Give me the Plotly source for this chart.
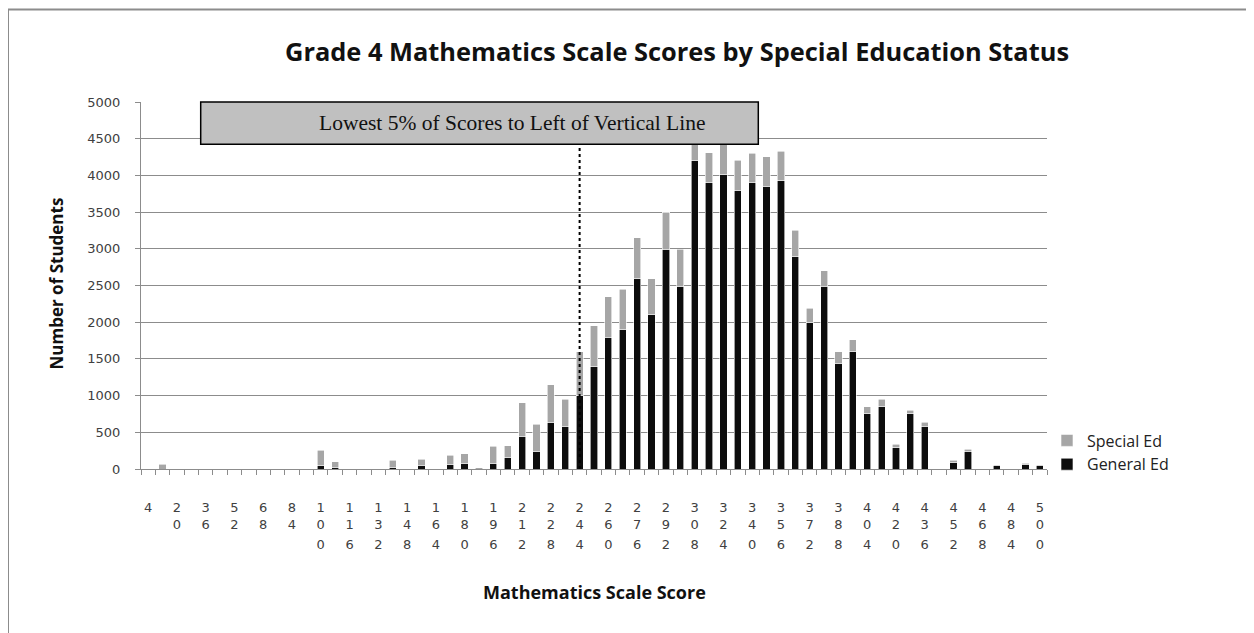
import plotly.graph_objects as go

# ---- data ----
scores = [4, 12, 20, 28, 36, 44, 52, 60, 68, 76, 84, 92, 100, 108, 116, 124, 132,
          140, 148, 156, 164, 172, 180, 188, 196, 204, 212, 220, 228, 236, 244,
          252, 260, 268, 276, 284, 292, 300, 308, 316, 324, 332, 340, 348, 356,
          364, 372, 380, 388, 396, 404, 412, 420, 428, 436, 444, 452, 460, 468,
          476, 484, 492, 500]

general_ed = [0, 0, 0, 0, 0, 0, 0, 0, 0, 0, 0, 0, 45, 25, 0, 0, 0, 25, 0, 50, 0,
              65, 80, 0, 80, 150, 445, 240, 640, 585, 1000, 1395, 1795, 1900,
              2595, 2100, 2995, 2490, 4200, 3905, 4010, 3800, 3905, 3855, 3925,
              2895, 1995, 2490, 1440, 1600, 750, 850, 290, 750, 585, 0, 85, 240,
              0, 45, 0, 65, 50]

special_ed = [0, 65, 0, 0, 0, 0, 0, 0, 0, 0, 0, 0, 210, 75, 0, 0, 0, 95, 0, 85, 0,
              125, 125, 20, 230, 170, 455, 370, 505, 365, 600, 555, 555, 550,
              555, 495, 500, 505, 300, 405, 450, 405, 400, 400, 405, 360, 195,
              210, 160, 160, 100, 100, 50, 50, 50, 0, 35, 30, 0, 15, 0, 12, 10]

tick_labels = ["4", "20", "36", "52", "68", "84", "100", "116", "132", "148",
               "164", "180", "196", "212", "228", "244", "260", "276", "292",
               "308", "324", "340", "356", "372", "388", "404", "420", "436",
               "452", "468", "484", "500"]

cutoff_score = "244"   # lowest 5% cut-off (vertical line)

# ---- derived helpers ----
cats = [str(s) for s in scores]
label_pos = [cats.index(t) for t in tick_labels]
rows = []
for r in range(3):
    rows.append([t[r] if len(t) > r else "" for t in tick_labels])
row1_text = []
for c in cats:
    row1_text.append(c[0] if c in tick_labels else "")

FONT = "Open Sans"
GRID = "#8c8c8c"
TICKFONT = dict(family="DejaVu Sans", size=13, color="#404040")

fig = go.Figure()
fig.add_trace(go.Bar(name="General Ed", x=cats, y=general_ed,
                     marker=dict(color="#0d0d0d", line=dict(color="white", width=0.6))))
fig.add_trace(go.Bar(name="Special Ed", x=cats, y=special_ed,
                     marker=dict(color="#a6a6a6", line=dict(color="white", width=0.6))))

OFF = 8  # page body margin
W, H = 1254 - OFF, 633 - OFF
L = 141 - OFF
T = 102 - OFF
R = W - (1047 - OFF)
B = H - (469 - OFF)
pw, ph = W - L - R, H - T - B

def px(xs):
    return (xs - OFF - L) / pw

def py(ys):
    return (H - B - (ys - OFF)) / ph

base_standoff = 26
row_gap = 20

fig.update_layout(
    width=W, height=H,
    margin=dict(l=L, r=R, t=T, b=B, pad=0),
    paper_bgcolor="white", plot_bgcolor="white",
    barmode="stack", bargap=0.5,
    showlegend=True,
    legend=dict(x=px(1047), xanchor="left", y=0.045, yanchor="middle",
                traceorder="reversed", itemwidth=30,
                font=dict(family=FONT, size=16, color="#222"),
                bgcolor="rgba(0,0,0,0)"),
    xaxis=dict(type="category", categoryorder="array", categoryarray=cats,
               range=[-0.5, len(cats) - 0.5],
               tickmode="array", tickvals=cats, ticktext=row1_text,
               tickson="boundaries", ticks="outside", ticklen=5, tickangle=0,
               tickcolor=GRID, showline=True, linecolor=GRID, linewidth=1,
               showgrid=False, tickfont=TICKFONT,
               ticklabelstandoff=base_standoff),
    xaxis2=dict(overlaying="x", anchor="y", side="bottom", type="linear",
                range=[-0.5, len(cats) - 0.5], tickmode="array",
                tickvals=label_pos, ticktext=rows[1], ticks="", tickangle=0,
                showline=False, showgrid=False, zeroline=False,
                tickfont=TICKFONT, ticklabelstandoff=base_standoff + row_gap),
    xaxis3=dict(overlaying="x", anchor="y", side="bottom", type="linear",
                range=[-0.5, len(cats) - 0.5], tickmode="array",
                tickvals=label_pos, ticktext=rows[2], ticks="", tickangle=0,
                showline=False, showgrid=False, zeroline=False,
                tickfont=TICKFONT, ticklabelstandoff=base_standoff + 2 * row_gap),
    yaxis=dict(range=[0, 5000], dtick=500, tickformat="d",
               showgrid=True, gridcolor=GRID, gridwidth=1,
               showline=True, linecolor=GRID, linewidth=1,
               ticks="outside", ticklen=5, tickcolor=GRID,
               zeroline=False, tickfont=TICKFONT, ticklabelstandoff=12),
)

# dummy invisible traces so overlay axes render
fig.add_trace(go.Scatter(x=[label_pos[0]], y=[None], xaxis="x2", showlegend=False,
                         hoverinfo="skip", mode="markers"))
fig.add_trace(go.Scatter(x=[label_pos[0]], y=[None], xaxis="x3", showlegend=False,
                         hoverinfo="skip", mode="markers"))

# dotted cut-off line
fig.add_shape(type="line", xref="x", yref="y",
              x0=cats.index(cutoff_score), x1=cats.index(cutoff_score),
              y0=0, y1=4500, line=dict(color="black", width=2, dash="dot"),
              layer="above")

# label box
fig.add_shape(type="rect", xref="paper", yref="paper",
              x0=px(200.7), x1=px(758.3), y0=py(144.3), y1=py(102),
              fillcolor="#c0c0c0", line=dict(color="black", width=1.5),
              layer="above")
fig.add_annotation(xref="paper", yref="paper", x=px(512), y=py(123),
                   text="Lowest 5% of Scores to Left of Vertical Line",
                   showarrow=False, xanchor="center", yanchor="middle",
                   font=dict(family="Liberation Serif", size=21.5, color="#111"))

# outer frame
fig.add_shape(type="rect", xref="paper", yref="paper",
              x0=px(8), x1=px(1270), y0=py(650), y1=py(9.5),
              line=dict(color="#8c8c8c", width=2), fillcolor="rgba(0,0,0,0)",
              layer="below")

# titles
fig.add_annotation(xref="paper", yref="paper", x=px(677), y=py(51),
                   text="<b>Grade 4 Mathematics Scale Scores by Special Education Status</b>",
                   showarrow=False, xanchor="center", yanchor="middle",
                   font=dict(family=FONT, size=25.4, color="#111"))
fig.add_annotation(xref="paper", yref="paper", x=0.5, y=py(592),
                   text="<b>Mathematics Scale Score</b>",
                   showarrow=False, xanchor="center", yanchor="middle",
                   font=dict(family=FONT, size=18, color="#111"))
fig.add_annotation(xref="paper", yref="paper", x=px(55.5), y=py(284),
                   text="<b>Number of Students</b>", textangle=-90,
                   showarrow=False, xanchor="center", yanchor="middle",
                   font=dict(family=FONT, size=17, color="#111"))

fig.write_html("out.html")
